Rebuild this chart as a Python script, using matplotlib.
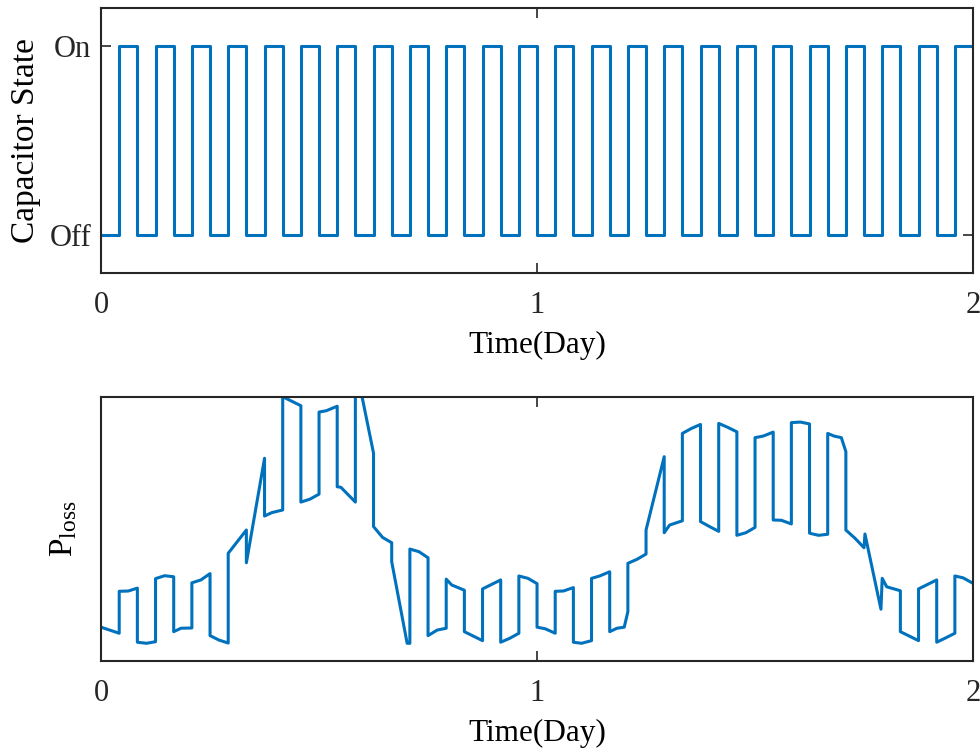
import numpy as np
import matplotlib
matplotlib.use("Agg")
import matplotlib.pyplot as plt

plt.rcParams['font.family'] = ['Liberation Serif', 'DejaVu Serif']
plt.rcParams['mathtext.fontset'] = 'custom'
plt.rcParams['mathtext.rm'] = 'Liberation Serif'

# capacitor state, one value per hour (0 = Off, 1 = On)
cap_hours = np.arange(0, 49)
cap_state = [0, 1] * 24 + [1]

# power loss trace (hours, normalised value)
loss_hours = [
    0, 1, 1, 1.5, 2, 2, 2.5, 3, 3, 3.5, 4, 4, 4.4, 5, 5, 5.5, 6, 6, 6.5, 7, 7,
    8, 8, 9, 9, 9.4, 10, 10, 11, 11, 11.5, 12, 12, 12.4, 13, 13, 13.2, 14, 14, 14.35,
    15, 15, 15.5, 16, 16, 16.85, 17, 17, 17.5, 18, 18, 18.5, 19, 19, 19.3, 20, 20,
    21, 21, 22, 22, 22.5, 23, 23, 23.5, 24, 24, 24.45, 25, 25, 25.45, 26, 26, 26.45,
    27, 27, 27.45, 28, 28, 28.4, 28.8, 29, 29, 29.5, 30, 30, 31, 31, 31.3, 32, 32,
    32.5, 33, 33, 33.5, 34, 34, 34.5, 35, 35, 35.5, 36, 36, 36.45, 37, 37, 37.45,
    38, 38, 38.5, 39, 39, 39.5, 40, 40, 40.35, 40.75, 41, 41, 41.5, 42, 42.05, 42.93,
    43, 43.25, 44, 44, 45, 45, 46, 46, 46.45, 47, 47, 47.45, 48,
]
loss_vals = [
    0.127, 0.104, 0.263, 0.264, 0.275, 0.070, 0.066, 0.072, 0.311, 0.322, 0.318, 0.110, 0.123, 0.124, 0.295, 0.306, 0.330, 0.095, 0.078, 0.067, 0.407,
    0.495, 0.371, 0.767, 0.548, 0.561, 0.571, 1.000, 0.966, 0.601, 0.612, 0.631, 0.942, 0.947, 0.964, 0.659, 0.657, 0.601, 1.004, 1.006,
    0.786, 0.508, 0.467, 0.447, 0.375, 0.066, 0.066, 0.423, 0.413, 0.390, 0.095, 0.116, 0.123, 0.309, 0.287, 0.267, 0.110,
    0.076, 0.272, 0.306, 0.070, 0.085, 0.104, 0.321, 0.312, 0.292, 0.127, 0.121, 0.104, 0.263, 0.264, 0.277, 0.070, 0.066,
    0.076, 0.312, 0.321, 0.337, 0.110, 0.123, 0.127, 0.186, 0.369, 0.384, 0.404, 0.495, 0.773, 0.485, 0.514, 0.530, 0.861,
    0.880, 0.895, 0.527, 0.508, 0.490, 0.899, 0.884, 0.867, 0.475, 0.485, 0.505, 0.845, 0.851, 0.866, 0.533, 0.532,
    0.518, 0.902, 0.904, 0.897, 0.483, 0.475, 0.479, 0.861, 0.851, 0.845, 0.792, 0.495, 0.464, 0.428, 0.480, 0.195,
    0.312, 0.280, 0.265, 0.110, 0.076, 0.272, 0.306, 0.070, 0.085, 0.104, 0.321, 0.314, 0.293,
]

blue = '#0072BD'
edge = '#262626'
fs = 22

fig = plt.figure(figsize=(9.8, 7.48), dpi=100)
ax1 = fig.add_axes([0.1031, 0.6354, 0.8898, 0.3543])
ax2 = fig.add_axes([0.1031, 0.1167, 0.8898, 0.3529])

ax1.step(cap_hours / 24.0, cap_state, where='post', color=blue, lw=2.2)
ax1.set_xlim(0, 2)
ax1.set_ylim(-0.2, 1.2)
ax1.set_yticks([0, 1])
ax1.set_yticklabels(['Off', 'On'])
ax1.set_ylabel('Capacitor State', fontsize=24, labelpad=6)

ax2.plot(np.array(loss_hours) / 24.0, loss_vals, color=blue, lw=2.2)
ax2.set_xlim(0, 2)
ax2.set_ylim(0, 1)
ax2.set_yticks([])
ax2.set_ylabel(r'$\mathrm{P_{loss}}$', fontsize=24, labelpad=16)

for ax in (ax1, ax2):
    ax.set_xticks([0, 1, 2])
    ax.set_xticklabels(['0', '1', '2'])
    ax.set_xlabel('Time(Day)', fontsize=22.5, labelpad=8)
    ax.tick_params(direction='in', top=True, right=True, length=7, width=1.2,
                   labelsize=fs, color=edge, labelcolor=edge)
    ax.tick_params(axis='x', pad=13)
    ax.tick_params(axis='y', pad=7)
    for s in ax.spines.values():
        s.set_linewidth(1.5)
        s.set_color(edge)

fig.savefig('out.png', dpi=100)
